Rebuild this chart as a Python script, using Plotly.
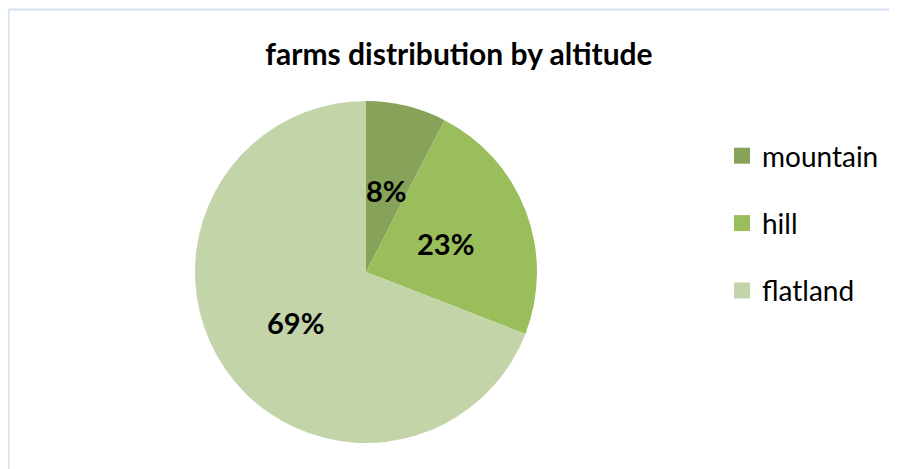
import math
import plotly.graph_objects as go

categories = ["mountain", "hill", "flatland"]
values = [7.6, 23.3, 69.1]
colors = ["#86A359", "#9BBE5C", "#C3D4A9"]

# the page body has an 8px margin, so figure coords = page coords - 8
W, H = 889, 461
cx, cy, R = 358, 264, 171
LABEL_R = 0.5

fig = go.Figure()
fig.add_trace(go.Pie(
    labels=categories, values=values, sort=False, direction="clockwise",
    rotation=0, marker=dict(colors=colors, line=dict(width=0)),
    textinfo="none", showlegend=False, hoverinfo="label+percent",
    domain=dict(x=[(cx - R) / W, (cx + R) / W], y=[(H - cy - R) / H, (H - cy + R) / H]),
))
for name, col in zip(categories, colors):
    fig.add_trace(go.Scatter(
        x=[None], y=[None], mode="markers", name=name, legendgroup=name,
        marker=dict(symbol="square", size=17, color=col),
    ))

total = sum(values)
annotations = []
cum = 0.0
for v in values:
    mid = (cum + v / 2) / total * 2 * math.pi
    cum += v
    px = cx + LABEL_R * R * math.sin(mid)
    py = cy - LABEL_R * R * math.cos(mid) + 2
    annotations.append(dict(
        x=px / W, y=1 - py / H, xref="paper", yref="paper", showarrow=False,
        text=f"<b>{round(v / total * 100)}%</b>",
        font=dict(family="Lato", size=29, color="black"),
        xanchor="center", yanchor="middle",
    ))

fig.update_layout(
    width=W, height=H, margin=dict(l=0, r=0, t=0, b=0),
    paper_bgcolor="white", plot_bgcolor="white",
    xaxis=dict(visible=False), yaxis=dict(visible=False),
    title=dict(text="<b>farms distribution by altitude</b>", x=451 / W, xanchor="center",
               y=1 - 46 / H, yanchor="middle",
               font=dict(family="Lato", size=30, color="black")),
    legend=dict(x=714 / W, y=1 - 123 / H, xanchor="left", yanchor="top",
                font=dict(family="Lato", size=28, color="black"),
                tracegroupgap=28, itemwidth=30, bgcolor="rgba(0,0,0,0)"),
    annotations=annotations,
    shapes=[
        dict(type="line", xref="paper", yref="paper", x0=0.6 / W, x1=0.6 / W,
             y0=0, y1=1 - 1.5 / H, line=dict(color="#D6E2F3", width=2)),
        dict(type="line", xref="paper", yref="paper", x0=0.6 / W, x1=1,
             y0=1 - 1.5 / H, y1=1 - 1.5 / H, line=dict(color="#D6E2F3", width=2)),
    ],
)
fig.write_html("out.html")
